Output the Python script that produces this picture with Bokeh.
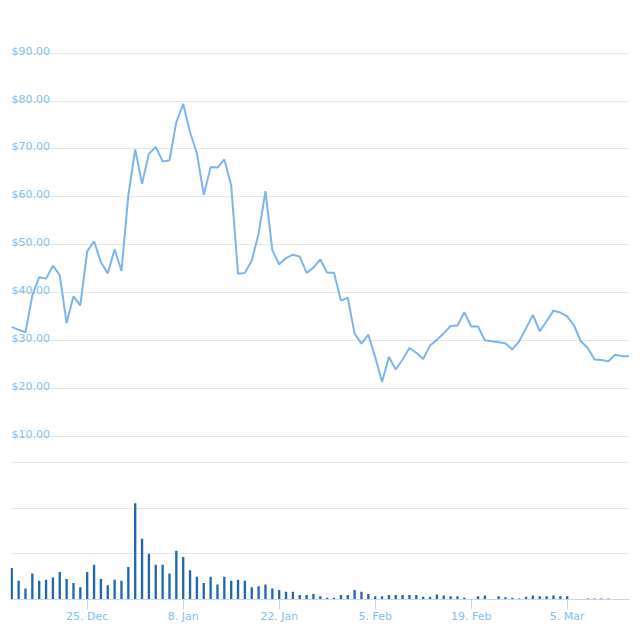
import numpy as np
import pandas as pd
from bokeh.plotting import figure
from bokeh.models import Range1d, FixedTicker, Grid, ColumnDataSource
from bokeh.core.properties import value
from bokeh.embed import file_html
from bokeh.resources import INLINE

# ---------------- data ----------------
start_date = "2017-12-14"

price = [32.8, 32.2, 31.7, 39.4, 43.2, 42.9, 45.6, 43.6, 33.6, 39.2,
         37.3, 48.6, 50.7, 46.3, 44.0, 49.0, 44.5, 60.3, 69.9, 62.7,
         69.0, 70.4, 67.4, 67.6, 75.6, 79.4, 73.5, 69.1, 60.4, 66.2,
         66.1, 67.8, 62.4, 43.9, 44.1, 46.7, 52.3, 61.2, 48.8, 45.9,
         47.2, 47.9, 47.5, 44.1, 45.2, 46.9, 44.1, 44.1, 38.3, 38.9,
         31.4, 29.3, 31.2, 26.5, 21.3, 26.5, 23.9, 26.0, 28.4, 27.4,
         26.1, 28.9, 30.1, 31.5, 33.0, 33.1, 35.9, 32.9, 32.9, 30.0,
         29.8, 29.6, 29.4, 28.1, 29.8, 32.5, 35.3, 31.9, 34.0, 36.2,
         35.8, 35.0, 33.1, 29.8, 28.4, 26.0, 25.9, 25.6, 27.0, 26.7,
         26.7]

volume = [69, 41, 24, 57, 41, 43, 48, 60, 45, 36,
          27, 60, 76, 45, 31, 43, 41, 71, 211, 133,
          100, 76, 76, 57, 107, 93, 64, 50, 36, 50,
          33, 50, 41, 43, 41, 27, 29, 33, 24, 21,
          17, 17, 10, 10, 12, 7, 4, 4, 10, 10,
          21, 17, 12, 7, 7, 10, 10, 10, 10, 10,
          6, 6, 11, 9, 7, 7, 4, None, 7, 9,
          None, 7, 5, 4, 2, 6, 9, 7, 7, 9,
          7, 7, None, None, 2, 2, 2, 2, None, None,
          None]

price_ticks = [10, 20, 30, 40, 50, 60, 70, 80, 90]
volume_grid = [100, 200, 300]
date_ticks = ["2017-12-25", "2018-01-08", "2018-01-22",
              "2018-02-05", "2018-02-19", "2018-03-05"]
date_tick_labels = ["25. Dec", "8. Jan", "22. Jan", "5. Feb", "19. Feb", "5. Mar"]

# ---------------- build ----------------
DAY = 86400000


def ms(d):
    return int(pd.Timestamp(d).value // 10**6)


dates = pd.date_range(start_date, periods=len(price), freq="D")
x_ms = [ms(d) for d in dates]
vol_arr = np.array([np.nan if v is None else v for v in volume], dtype=float)

src = ColumnDataSource(dict(x=x_ms, price=price, vol=vol_arr))

x_start = x_ms[0] - 0.185 * DAY
x_end = x_ms[-1] + 0.09 * DAY

FONT = "DejaVu Sans"
LABEL_COLOR = "#80c1ee"
GRID_COLOR = "#e6e6e6"
AXIS_COLOR = "#ccd6eb"

p = figure(width=640, height=640, output_backend="svg", toolbar_location=None,
           x_axis_type="datetime", y_axis_location=None,
           x_range=Range1d(x_start, x_end), y_range=Range1d(-24.16, 98.93),
           min_border_left=10, min_border_right=11,
           min_border_top=10, min_border_bottom=41)
p.outline_line_color = None
p.background_fill_color = "white"
p.border_fill_color = "white"
for g in p.grid:
    g.visible = False

p.extra_y_ranges = {"vol": Range1d(0, 1289.7)}

# grids
p.add_layout(Grid(dimension=1, ticker=FixedTicker(ticks=price_ticks),
                  grid_line_color=GRID_COLOR, grid_line_width=1))
p.add_layout(Grid(dimension=1, ticker=FixedTicker(ticks=volume_grid),
                  y_range_name="vol",
                  grid_line_color=GRID_COLOR, grid_line_width=1))

# volume bars
p.vbar(x="x", top="vol", bottom=0, width=0.34 * DAY, source=src,
       y_range_name="vol", fill_color="#2067ad", line_color=None)

# price line
p.line(x="x", y="price", source=src, line_color="#7cb5ec", line_width=2)

# price labels (inside plot, over grid)
p.text(x=[x_start] * len(price_ticks), y=price_ticks,
       text=["$%.2f" % t for t in price_ticks],
       text_font=value(FONT), text_font_size="11px", text_color=LABEL_COLOR,
       text_align="left", text_baseline="alphabetic", x_offset=1, y_offset=-2)

# x axis
ax = p.xaxis[0]
tick_ms = [ms(d) for d in date_ticks]
ax.ticker = FixedTicker(ticks=tick_ms)
ax.major_label_overrides = {t: lab for t, lab in zip(tick_ms, date_tick_labels)}
ax.axis_line_color = AXIS_COLOR
ax.major_tick_line_color = AXIS_COLOR
ax.major_tick_out = 10
ax.major_tick_in = 0
ax.minor_tick_line_color = None
ax.major_label_text_color = LABEL_COLOR
ax.major_label_text_font = FONT
ax.major_label_text_font_size = "11px"
ax.major_label_standoff = 0

open("out.html", "w").write(file_html(p, INLINE))
